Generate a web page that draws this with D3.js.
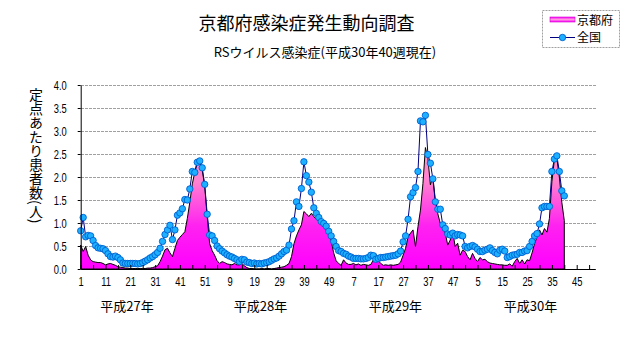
<!DOCTYPE html>
<html><head><meta charset="utf-8">
<script src="https://cdn.jsdelivr.net/npm/d3@7"></script>
<style>body{margin:0;background:#fff}svg{display:block}</style>
</head><body>
<svg id="c" width="631" height="347"></svg>
<script>
// ---- data ----
const title = "京都府感染症発生動向調査";
const subtitle = "RSウイルス感染症(平成30年40週現在)";
const yTitle = "定点あたり患者数(人)";
const seriesNames = ["京都府", "全国"];
const yearLabels = ["平成27年", "平成28年", "平成29年", "平成30年"];
const yearLabelAt = [18.7, 72.5, 126.9, 181.4]; // category index of label centre
const xTickLabels = ["1","11","21","31","41","51","9","19","29","39","49","7","17","27","37","47","5","15","25","35","45"];
const yTicks = [0, 0.5, 1.0, 1.5, 2.0, 2.5, 3.0, 3.5, 4.0];
const categoryCount = 208;

const kyoto = [
0.52,0.38,0.49,0.30,0.20,0.16,0.15,0.14,0.14,0.12,
0.09,0.11,0.12,0.10,0.08,0.05,0.04,0.03,0.02,0.02,
0.01,0.01,0.01,0.01,0.01,0.01,0.01,0.02,0.02,0.03,
0.05,0.07,0.16,0.28,0.42,0.45,0.35,0.27,0.45,0.62,
0.69,0.75,0.81,1.10,1.45,1.85,2.10,2.33,2.33,2.15,
1.80,1.14,0.55,0.40,0.30,0.18,0.12,0.16,0.14,0.11,
0.10,0.09,0.12,0.09,0.09,0.12,0.07,0.03,0.01,0.01,
0.00,0.00,0.00,0.01,0.00,0.01,0.01,0.00,0.01,0.02,
0.03,0.04,0.05,0.08,0.12,0.27,0.55,0.72,0.85,0.96,
1.25,1.20,1.14,1.21,1.14,1.08,1.03,0.96,0.90,0.84,
0.74,0.62,0.35,0.18,0.12,0.08,0.20,0.13,0.10,0.10,
0.12,0.09,0.11,0.08,0.10,0.09,0.08,0.10,0.20,0.33,
0.18,0.12,0.08,0.09,0.08,0.09,0.08,0.09,0.10,0.15,
0.30,0.45,0.70,0.78,0.85,0.49,0.92,1.28,1.86,2.64,
2.41,1.83,2.01,1.49,1.20,0.99,0.88,0.78,0.52,0.63,
0.81,0.49,0.56,0.30,0.41,0.38,0.27,0.20,0.34,0.23,
0.16,0.25,0.20,0.21,0.16,0.13,0.12,0.11,0.10,0.09,
0.09,0.08,0.08,0.11,0.06,0.16,0.23,0.12,0.20,0.11,
0.20,0.18,0.35,0.55,0.70,0.85,0.74,0.88,0.80,1.10,
1.90,2.38,2.40,2.00,1.45,1.05
];

const zenkoku = [
0.83,1.12,0.70,0.73,0.72,0.62,0.51,0.46,0.45,0.44,
0.40,0.33,0.27,0.26,0.28,0.25,0.20,0.13,0.12,0.12,
0.12,0.12,0.12,0.11,0.12,0.14,0.17,0.20,0.24,0.27,
0.31,0.36,0.45,0.60,0.75,0.85,0.95,0.64,0.85,1.17,
1.22,1.31,1.51,1.50,1.74,2.12,2.10,2.32,2.35,2.20,
1.84,1.19,0.74,0.72,0.62,0.50,0.44,0.39,0.35,0.31,
0.28,0.26,0.23,0.20,0.16,0.21,0.20,0.15,0.14,0.12,
0.13,0.11,0.12,0.11,0.13,0.14,0.16,0.19,0.22,0.24,
0.28,0.33,0.38,0.41,0.52,0.87,1.05,1.46,1.36,1.75,
2.33,2.03,1.89,1.67,1.33,1.21,1.12,1.03,0.99,0.93,
0.82,0.72,0.60,0.49,0.40,0.38,0.34,0.32,0.28,0.26,
0.23,0.23,0.23,0.22,0.22,0.23,0.25,0.30,0.29,0.21,
0.23,0.25,0.25,0.26,0.27,0.28,0.29,0.30,0.33,0.39,
0.59,0.72,1.08,1.57,1.66,1.77,2.12,3.22,3.20,3.34,
2.49,2.30,1.96,1.46,1.30,1.30,0.96,0.88,0.76,0.74,
0.78,0.72,0.75,0.74,0.72,0.49,0.46,0.49,0.51,0.48,
0.43,0.38,0.38,0.41,0.43,0.46,0.40,0.36,0.33,0.41,
0.43,0.39,0.25,0.27,0.30,0.31,0.32,0.36,0.36,0.39,
0.40,0.49,0.60,0.72,0.77,0.98,1.33,1.36,1.36,1.36,
2.12,2.39,2.46,2.12,1.70,1.59
];

// ---- drawing ----
const JP = "'Noto Sans CJK JP','Noto Sans',sans-serif";
const NUM = "'Liberation Sans',Arial,sans-serif";
const svg = d3.select("#c");
const x = d3.scaleLinear().domain([0, categoryCount - 0.5]).range([80.7, 595.3]);
const y = d3.scaleLinear().domain([0, 4]).range([269, 85]);

const defs = svg.append("defs");
const g1 = defs.append("linearGradient").attr("id","pinkGrad")
  .attr("gradientUnits","userSpaceOnUse").attr("x1",0).attr("x2",0)
  .attr("y1",y(0)).attr("y2",y(2.7));
[[0,"#ff00ff"],[0.35,"#ff22f0"],[0.7,"#ff80d0"],[1,"#ff99cc"]].forEach(s=>
  g1.append("stop").attr("offset",s[0]).attr("stop-color",s[1]));
const g2 = defs.append("linearGradient").attr("id","legGrad")
  .attr("x1",0).attr("x2",0).attr("y1",0).attr("y2",1);
[[0,"#ff00ff"],[0.5,"#ff99dd"],[1,"#ff00ff"]].forEach(s=>
  g2.append("stop").attr("offset",s[0]).attr("stop-color",s[1]));

// gridlines
svg.append("g").selectAll("line").data(yTicks.filter(d=>d>0)).join("line")
  .attr("x1", x(0)).attr("x2", 597).attr("y1", d=>y(d)).attr("y2", d=>y(d))
  .attr("stroke","#a0a0a0").attr("stroke-dasharray","3,1").attr("shape-rendering","crispEdges");

// Kyoto area
const area = d3.area().x((d,i)=>x(i)).y0(y(0)).y1(d=>y(d));
svg.append("path").datum(kyoto).attr("d", area)
  .attr("fill","url(#pinkGrad)").attr("stroke","#000").attr("stroke-width",1);

// National line + markers
const line = d3.line().x((d,i)=>x(i)).y(d=>y(d));
svg.append("path").datum(zenkoku).attr("d", line)
  .attr("fill","none").attr("stroke","#000080").attr("stroke-width",1);
svg.append("g").selectAll("circle").data(zenkoku).join("circle")
  .attr("cx",(d,i)=>x(i)).attr("cy",d=>y(d)).attr("r",3.2)
  .attr("fill","#1cb0ff").attr("stroke","#0060d0").attr("stroke-width",0.9);

// axes
const yAxis = svg.append("g").attr("transform",`translate(${x(0)},0)`)
  .call(d3.axisLeft(y).tickValues(yTicks).tickFormat(d3.format(".1f")).tickSize(3).tickSizeOuter(0));
yAxis.selectAll("text").attr("x",null).attr("transform","translate(-14,0) scale(0.72,1)")
  .attr("font-family",NUM).attr("font-size",13).attr("fill","#000");
yAxis.select(".domain").attr("stroke","#000");

const tickIdx = d3.range(0, categoryCount, 5);
const xAxis = svg.append("g").attr("transform",`translate(0,${y(0)})`)
  .call(d3.axisBottom(x).tickValues(tickIdx).tickSize(-4).tickSizeOuter(0)
    .tickFormat(i => (i % 10 === 0 && xTickLabels[i/10] !== undefined) ? xTickLabels[i/10] : ""));
xAxis.selectAll("text").attr("y",8).attr("transform","scale(0.72,1)")
  .attr("font-family",NUM).attr("font-size",13).attr("fill","#000");
xAxis.select(".domain").attr("stroke","#000");

// year labels
svg.append("g").selectAll("text").data(yearLabels).join("text")
  .attr("x",(d,i)=>x(yearLabelAt[i])).attr("y",311).attr("text-anchor","middle")
  .attr("font-family",JP).attr("font-size",13).text(d=>d);

// titles
svg.append("text").attr("x",306.5).attr("y",30).attr("text-anchor","middle")
  .attr("font-family",JP).attr("font-size",18).text(title);
svg.append("text").attr("x",325).attr("y",57).attr("text-anchor","middle")
  .attr("font-family",JP).attr("font-size",13).text(subtitle);
svg.append("text").attr("x",36).attr("y",88).style("writing-mode","vertical-rl")
  .attr("font-family",JP).attr("font-size",14).text(yTitle);

// legend
const leg = svg.append("g");
leg.append("rect").attr("x",542.5).attr("y",10.5).attr("width",77).attr("height",37)
  .attr("fill","#fff").attr("stroke","#a0a0a0").attr("stroke-dasharray","2,1");
leg.append("rect").attr("x",550).attr("y",17).attr("width",25).attr("height",5)
  .attr("fill","url(#legGrad)").attr("stroke","#cc00cc").attr("stroke-width",0.6);
leg.append("line").attr("x1",550).attr("x2",575).attr("y1",37.5).attr("y2",37.5)
  .attr("stroke","#000080");
leg.append("circle").attr("cx",562.5).attr("cy",37.5).attr("r",3.2)
  .attr("fill","#1cb0ff").attr("stroke","#0060d0").attr("stroke-width",0.9);
leg.selectAll("text.l").data(seriesNames).join("text").attr("class","l")
  .attr("x",577).attr("y",(d,i)=>i===0?24.5:42).attr("font-family",JP).attr("font-size",12).text(d=>d);
</script>
</body></html>
